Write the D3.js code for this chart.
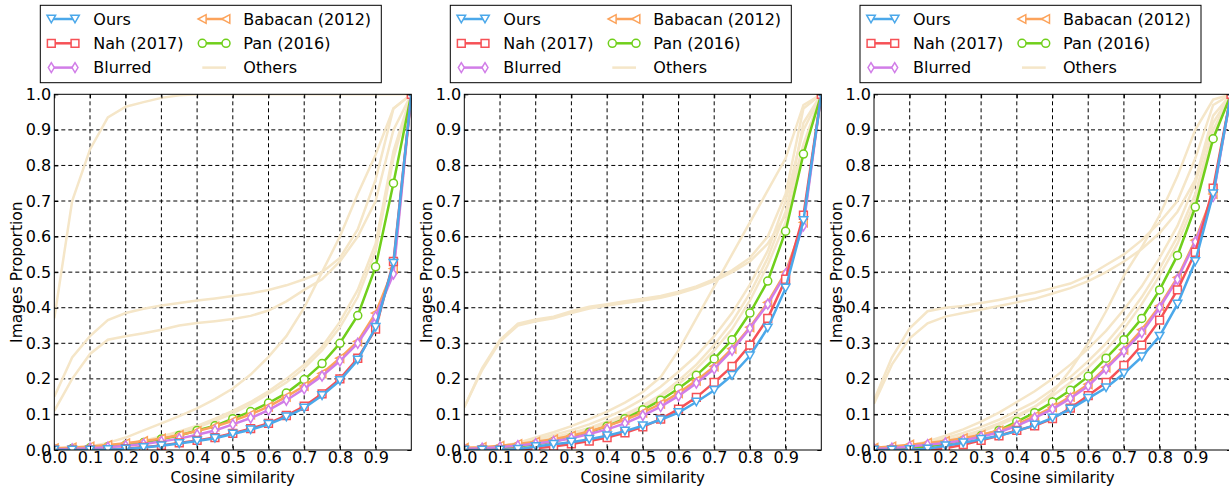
<!DOCTYPE html>
<html>
<head>
<meta charset="utf-8">
<script src="https://cdn.jsdelivr.net/npm/d3@7"></script>
<style>
body { margin: 0; background: #fff; }
svg { font-family: "DejaVu Sans", sans-serif; display: block; }
</style>
</head>
<body>
<div id="chart"></div>
<script>
// x positions of every sample (cosine similarity)
const xs = [0, 0.05, 0.1, 0.15, 0.2, 0.25, 0.3, 0.35, 0.4, 0.45, 0.5, 0.55, 0.6, 0.65, 0.7, 0.75, 0.8, 0.85, 0.9, 0.95, 1]
const xTicks = [0, 0.1, 0.2, 0.3, 0.4, 0.5, 0.6, 0.7, 0.8, 0.9]
const yTicks = [0, 0.1, 0.2, 0.3, 0.4, 0.5, 0.6, 0.7, 0.8, 0.9, 1]

// panel 1
const ours1 = [0, 0, 0, 0.001, 0.003, 0.007, 0.012, 0.018, 0.025, 0.033, 0.045, 0.057, 0.072, 0.093, 0.118, 0.153, 0.195, 0.253, 0.345, 0.525, 1]
const nah1 = [0, 0, 0, 0.001, 0.004, 0.008, 0.013, 0.02, 0.027, 0.035, 0.047, 0.06, 0.075, 0.097, 0.123, 0.158, 0.2, 0.258, 0.34, 0.53, 1]
const blurred1 = [0.002, 0.003, 0.005, 0.008, 0.012, 0.017, 0.024, 0.032, 0.043, 0.055, 0.072, 0.09, 0.112, 0.14, 0.172, 0.208, 0.25, 0.3, 0.375, 0.495, 1]
const babacan1 = [0.005, 0.007, 0.01, 0.014, 0.019, 0.025, 0.032, 0.042, 0.053, 0.066, 0.082, 0.1, 0.122, 0.15, 0.18, 0.215, 0.258, 0.305, 0.385, 0.51, 1]
const pan1 = [0.003, 0.004, 0.006, 0.009, 0.014, 0.021, 0.031, 0.041, 0.055, 0.068, 0.088, 0.108, 0.132, 0.16, 0.198, 0.243, 0.3, 0.378, 0.515, 0.75, 1]
const others1 = [
    [0.37, 0.7, 0.845, 0.935, 0.965, 0.978, 0.99, 0.997, 1, 1, 1, 1, 1, 1, 1, 1, 1, 1, 1, 1, 1],
    [0.15, 0.26, 0.32, 0.365, 0.385, 0.397, 0.406, 0.413, 0.42, 0.426, 0.433, 0.44, 0.45, 0.463, 0.48, 0.5, 0.54, 0.62, 0.76, 0.96, 1],
    [0.11, 0.2, 0.27, 0.31, 0.32, 0.328, 0.338, 0.35, 0.357, 0.362, 0.368, 0.377, 0.392, 0.418, 0.45, 0.48, 0.53, 0.6, 0.7, 0.9, 1],
    [0, 0.003, 0.01, 0.02, 0.035, 0.055, 0.075, 0.095, 0.117, 0.143, 0.173, 0.212, 0.262, 0.32, 0.4, 0.5, 0.6, 0.72, 0.83, 0.96, 1],
    [0, 0.002, 0.005, 0.01, 0.017, 0.026, 0.038, 0.052, 0.068, 0.088, 0.11, 0.135, 0.165, 0.2, 0.24, 0.29, 0.36, 0.45, 0.58, 0.84, 1],
    [0, 0.002, 0.005, 0.01, 0.016, 0.024, 0.035, 0.048, 0.063, 0.082, 0.103, 0.128, 0.158, 0.19, 0.23, 0.28, 0.345, 0.43, 0.56, 0.82, 1]
]

// panel 2
const ours2 = [0, 0, 0, 0.002, 0.01, 0.016, 0.022, 0.03, 0.04, 0.053, 0.068, 0.085, 0.105, 0.135, 0.168, 0.21, 0.265, 0.343, 0.455, 0.645, 1]
const nah2 = [0, 0, 0, 0.001, 0.005, 0.01, 0.017, 0.025, 0.035, 0.048, 0.065, 0.087, 0.115, 0.148, 0.19, 0.235, 0.295, 0.37, 0.48, 0.66, 1]
const blurred2 = [0.003, 0.005, 0.008, 0.012, 0.018, 0.024, 0.033, 0.045, 0.058, 0.075, 0.097, 0.122, 0.152, 0.188, 0.228, 0.28, 0.342, 0.41, 0.495, 0.63, 1]
const babacan2 = [0.006, 0.008, 0.012, 0.017, 0.023, 0.03, 0.04, 0.052, 0.067, 0.085, 0.105, 0.13, 0.16, 0.195, 0.235, 0.285, 0.345, 0.415, 0.5, 0.64, 1]
const pan2 = [0.002, 0.003, 0.005, 0.01, 0.016, 0.024, 0.035, 0.05, 0.067, 0.088, 0.113, 0.14, 0.173, 0.21, 0.256, 0.31, 0.385, 0.475, 0.615, 0.832, 1]
const others2 = [
    [0.12, 0.23, 0.31, 0.355, 0.367, 0.375, 0.39, 0.403, 0.41, 0.418, 0.425, 0.433, 0.445, 0.46, 0.48, 0.505, 0.54, 0.6, 0.72, 0.96, 1],
    [0.12, 0.225, 0.305, 0.35, 0.362, 0.37, 0.385, 0.398, 0.406, 0.413, 0.42, 0.428, 0.44, 0.455, 0.475, 0.5, 0.53, 0.58, 0.66, 0.92, 1],
    [0, 0.003, 0.01, 0.02, 0.035, 0.05, 0.067, 0.087, 0.108, 0.133, 0.163, 0.205, 0.28, 0.37, 0.46, 0.55, 0.64, 0.73, 0.82, 0.97, 1],
    [0, 0.003, 0.008, 0.015, 0.025, 0.035, 0.048, 0.062, 0.08, 0.1, 0.125, 0.155, 0.195, 0.24, 0.295, 0.36, 0.44, 0.54, 0.67, 0.86, 1],
    [0, 0.003, 0.01, 0.018, 0.03, 0.042, 0.056, 0.072, 0.092, 0.115, 0.143, 0.178, 0.22, 0.265, 0.32, 0.385, 0.465, 0.56, 0.7, 0.9, 1],
    [0, 0.002, 0.006, 0.012, 0.02, 0.03, 0.042, 0.056, 0.074, 0.095, 0.12, 0.15, 0.185, 0.228, 0.28, 0.34, 0.42, 0.52, 0.64, 0.84, 1]
]

// panel 3
const ours3 = [0, 0, 0.001, 0.003, 0.012, 0.02, 0.03, 0.04, 0.053, 0.07, 0.09, 0.115, 0.145, 0.175, 0.215, 0.262, 0.32, 0.41, 0.53, 0.72, 1]
const nah3 = [0, 0, 0.001, 0.002, 0.005, 0.015, 0.027, 0.04, 0.055, 0.068, 0.088, 0.118, 0.153, 0.19, 0.238, 0.295, 0.365, 0.45, 0.556, 0.736, 1]
const blurred3 = [0.003, 0.005, 0.01, 0.015, 0.02, 0.027, 0.037, 0.05, 0.068, 0.09, 0.115, 0.145, 0.18, 0.228, 0.278, 0.33, 0.4, 0.48, 0.585, 0.713, 1]
const babacan3 = [0.006, 0.01, 0.015, 0.02, 0.025, 0.033, 0.043, 0.055, 0.072, 0.095, 0.12, 0.15, 0.185, 0.232, 0.282, 0.338, 0.405, 0.485, 0.59, 0.72, 1]
const pan3 = [0.002, 0.003, 0.006, 0.01, 0.017, 0.027, 0.04, 0.055, 0.08, 0.105, 0.135, 0.168, 0.207, 0.258, 0.31, 0.37, 0.45, 0.547, 0.683, 0.875, 1]
const others3 = [
    [0.14, 0.26, 0.342, 0.39, 0.4, 0.405, 0.413, 0.422, 0.432, 0.442, 0.455, 0.468, 0.49, 0.52, 0.55, 0.59, 0.64, 0.7, 0.82, 0.97, 1],
    [0.13, 0.24, 0.314, 0.356, 0.375, 0.385, 0.395, 0.405, 0.415, 0.425, 0.44, 0.455, 0.475, 0.5, 0.53, 0.565, 0.61, 0.67, 0.76, 0.94, 1],
    [0, 0.003, 0.008, 0.015, 0.025, 0.038, 0.052, 0.07, 0.092, 0.12, 0.16, 0.225, 0.3, 0.39, 0.49, 0.57, 0.66, 0.77, 0.9, 0.985, 1],
    [0, 0.003, 0.01, 0.02, 0.033, 0.048, 0.065, 0.085, 0.11, 0.135, 0.17, 0.205, 0.25, 0.3, 0.36, 0.43, 0.51, 0.6, 0.72, 0.9, 1],
    [0, 0.003, 0.008, 0.016, 0.027, 0.04, 0.056, 0.075, 0.097, 0.122, 0.152, 0.19, 0.232, 0.28, 0.34, 0.41, 0.49, 0.58, 0.7, 0.88, 1],
    [0, 0.004, 0.012, 0.024, 0.04, 0.058, 0.08, 0.105, 0.135, 0.165, 0.2, 0.24, 0.285, 0.335, 0.395, 0.46, 0.54, 0.63, 0.75, 0.92, 1]
]

const width = 1229
const height = 491
const plot = { top: 94.3, w: 357, h: 355.7 }
const panelLefts = [54.3, 464.3, 874]

const colors = {
    ours: "#4ba8ea",
    nah: "#f65156",
    blurred: "#d17de8",
    babacan: "#fca35b",
    pan: "#70cf1b",
    others: "#f5e6c8"
}

// marker shapes, centred on 0,0
const shapes = {
    triDown: "M-4.3,-3.8L4.3,-3.8L0,3.8Z",
    square: "M-3.9,-3.9H3.9V3.9H-3.9Z",
    diamond: "M0,-5L3,0L0,5L-3,0Z",
    triLeft: "M-4.2,0L3.8,-4.3L3.8,4.3Z",
    circle: "M4,0A4,4 0 1,1 -4,0A4,4 0 1,1 4,0Z"
}

const svg = d3.select("div#chart").append("svg").attr("width", width).attr("height", height)

function drawPanel(idx, left, series, others) {
    const x = d3.scaleLinear().domain([0, 1]).range([0, plot.w])
    const y = d3.scaleLinear().domain([0, 1]).range([plot.h, 0])

    const g = svg.append("g").attr("transform", `translate(${left}, ${plot.top})`)

    g.append("clipPath").attr("id", `clip${idx}`)
        .append("rect").attr("width", plot.w).attr("height", plot.h)

    // dashed grid
    const grid = g.append("g").attr("stroke", "#000").attr("stroke-width", 1).attr("stroke-dasharray", "4,3")
    grid.selectAll("line.v").data(xTicks.slice(1)).enter().append("line")
        .attr("x1", d => x(d)).attr("x2", d => x(d)).attr("y1", 0).attr("y2", plot.h)
    grid.selectAll("line.h").data(yTicks.slice(1, -1)).enter().append("line")
        .attr("y1", d => y(d)).attr("y2", d => y(d)).attr("x1", 0).attr("x2", plot.w)

    const line = d3.line().x((d, i) => x(xs[i])).y(d => y(d))
    const body = g.append("g").attr("clip-path", `url(#clip${idx})`)

    others.forEach(o => {
        body.append("path").datum(o).attr("d", line)
            .attr("fill", "none").attr("stroke", colors.others).attr("stroke-width", 2.5)
    })

    series.forEach(s => {
        body.append("path").datum(s.values).attr("d", line)
            .attr("fill", "none").attr("stroke", s.color).attr("stroke-width", 2.5)
        body.selectAll(null).data(s.values).enter().append("path")
            .attr("d", shapes[s.shape])
            .attr("transform", (d, i) => `translate(${x(xs[i])}, ${y(d)})`)
            .attr("fill", "#fff").attr("stroke", s.color).attr("stroke-width", 1.5)
    })

    // axes with inward ticks
    const fmt = d3.format(".1f")
    g.append("g").attr("transform", `translate(0, ${plot.h})`)
        .call(d3.axisBottom(x).tickValues(xTicks).tickFormat(fmt).tickSize(-4).tickPadding(2))
    g.append("g")
        .call(d3.axisLeft(y).tickValues(yTicks).tickFormat(fmt).tickSize(-4).tickPadding(3))
    g.append("g").call(d3.axisTop(x).tickValues(xTicks).tickFormat("").tickSize(-4))
    g.append("g").attr("transform", `translate(${plot.w}, 0)`)
        .call(d3.axisRight(y).tickValues(yTicks).tickFormat("").tickSize(-4))
    g.selectAll(".domain").remove()
    g.selectAll(".tick text").attr("font-size", 16).attr("font-family", "DejaVu Sans").attr("fill", "#000")

    g.append("rect").attr("width", plot.w).attr("height", plot.h)
        .attr("fill", "none").attr("stroke", "#000").attr("stroke-width", 1)

    g.append("text").text("Cosine similarity")
        .attr("x", plot.w / 2).attr("y", plot.h + 33.5)
        .attr("text-anchor", "middle").attr("font-size", 15)

    g.append("text").text("Images Proportion")
        .attr("transform", `translate(${-37.5}, ${plot.h / 2}) rotate(-90)`)
        .attr("text-anchor", "middle").attr("dy", "0.35em").attr("font-size", 15.5)

    // legend
    const lg = svg.append("g").attr("transform", `translate(${left - 14}, 5.3)`)
    lg.append("rect").attr("width", 341).attr("height", 77.4)
        .attr("fill", "#fff").attr("stroke", "#000").attr("stroke-width", 1)
    const items = series.slice().reverse().concat([{ name: "Others", color: colors.others }])
    const rows = [13.7, 38, 62.3]
    items.forEach((it, i) => {
        const col = Math.floor(i / 3)
        const x0 = col === 0 ? 11 : 162
        const x1 = x0 + 23.7
        const yy = rows[i % 3]
        lg.append("line").attr("x1", x0).attr("x2", x1).attr("y1", yy).attr("y2", yy)
            .attr("stroke", it.color).attr("stroke-width", 2.5)
        if (it.shape) {
            [x0, x1].forEach(mx => {
                lg.append("path").attr("d", shapes[it.shape])
                    .attr("transform", `translate(${mx}, ${yy})`)
                    .attr("fill", "#fff").attr("stroke", it.color).attr("stroke-width", 1.5)
            })
        }
        lg.append("text").text(it.name)
            .attr("x", col === 0 ? 53 : 203).attr("y", yy).attr("dy", "0.35em")
            .attr("font-size", 16)
    })
}

// drawn back to front; legend reads them in reverse
function seriesFor(ours, nah, blurred, babacan, pan) {
    return [
        { name: "Pan (2016)", values: pan, color: colors.pan, shape: "circle" },
        { name: "Babacan (2012)", values: babacan, color: colors.babacan, shape: "triLeft" },
        { name: "Blurred", values: blurred, color: colors.blurred, shape: "diamond" },
        { name: "Nah (2017)", values: nah, color: colors.nah, shape: "square" },
        { name: "Ours", values: ours, color: colors.ours, shape: "triDown" }
    ]
}

drawPanel(1, panelLefts[0], seriesFor(ours1, nah1, blurred1, babacan1, pan1), others1)
drawPanel(2, panelLefts[1], seriesFor(ours2, nah2, blurred2, babacan2, pan2), others2)
drawPanel(3, panelLefts[2], seriesFor(ours3, nah3, blurred3, babacan3, pan3), others3)
</script>
</body>
</html>
